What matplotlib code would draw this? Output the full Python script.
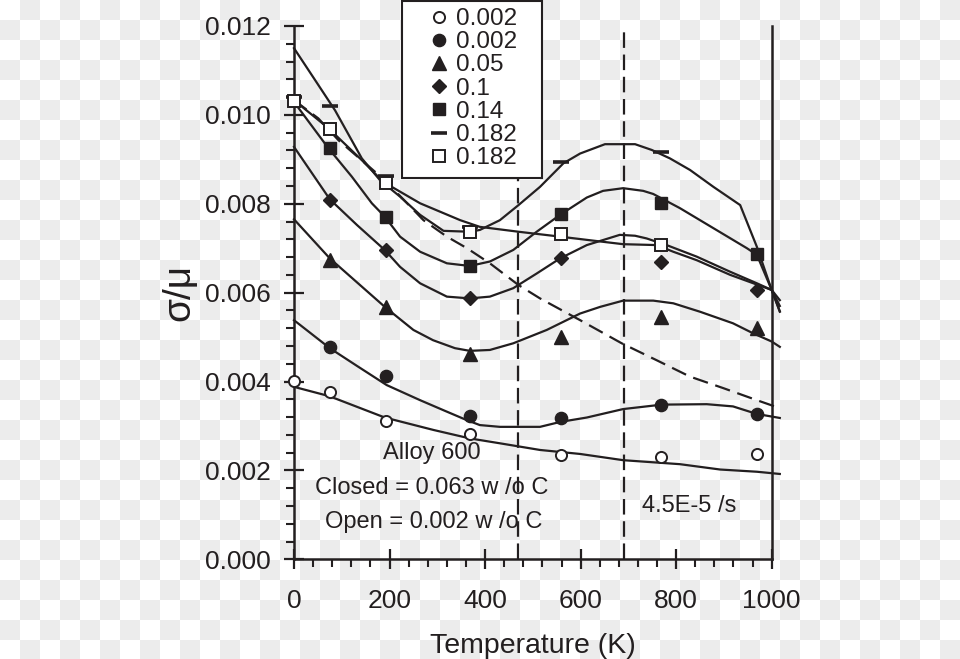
import matplotlib
matplotlib.use("Agg")
import matplotlib.pyplot as plt
from matplotlib.colors import ListedColormap
from matplotlib.patches import Rectangle
from matplotlib.ticker import MultipleLocator, FormatStrFormatter
from matplotlib.lines import Line2D
import numpy as np

plt.rcParams['font.family'] = ['Liberation Sans', 'DejaVu Sans']
INK = '#231f20'

# measured points (temperature in K, sigma/mu)
temps = [0, 75, 192, 368, 558, 768, 969]
open_002 = [0.00402, 0.00377, 0.00312, 0.00281, 0.00235, 0.00231, 0.00236]
filled_002 = [0.00478, 0.00412, 0.00322, 0.00317, 0.00347, 0.00327]
tri_005 = [0.00673, 0.00568, 0.00463, 0.00501, 0.00546, 0.00520]
dia_01 = [0.00808, 0.00696, 0.00587, 0.00679, 0.00670, 0.00607]
sq_014 = [0.00925, 0.00771, 0.00660, 0.00777, 0.00802, 0.00687]
dash_0182 = [0.0104, 0.01020, 0.00863, 0.00748, 0.00893, 0.00917]
osq_0182 = [0.01031, 0.00968, 0.00847, 0.00737, 0.00733, 0.00707]

# model curves
c_open_x = [0, 74, 132, 190, 292, 368, 431, 515, 599, 689, 808, 892, 969, 1017]
c_open_y = [0.00388, 0.00367, 0.00343, 0.00319, 0.00291, 0.00272, 0.00261,
            0.00246, 0.00237, 0.00223, 0.00214, 0.00202, 0.00197, 0.00192]
c_fill_x = [0, 75, 132, 194, 264, 316, 362, 389, 431, 515, 557, 613, 689,
            770, 864, 919, 969, 1017]
c_fill_y = [0.00538, 0.00475, 0.00435, 0.00392, 0.00358, 0.00334, 0.00313,
            0.00302, 0.00298, 0.00298, 0.00309, 0.00319, 0.00338, 0.00348,
            0.00349, 0.00344, 0.00327, 0.00318]
c_tri_x = [0, 75, 133, 190, 250, 291, 337, 368, 410, 459, 529, 599, 641,
           689, 752, 794, 850, 919, 962, 1000, 1017]
c_tri_y = [0.00765, 0.00677, 0.00622, 0.00568, 0.00516, 0.00493, 0.00475,
           0.00469, 0.00471, 0.00486, 0.00516, 0.00553, 0.00568, 0.00582,
           0.00582, 0.00576, 0.00557, 0.00531, 0.00508, 0.00490, 0.00478]
c_dia_x = [0, 75, 132, 190, 222, 264, 320, 368, 410, 459, 508, 557, 613,
           682, 714, 738, 780, 843, 913, 969, 1000, 1017]
c_dia_y = [0.00928, 0.00810, 0.00752, 0.00696, 0.00658, 0.00621, 0.00591,
           0.00587, 0.00591, 0.00610, 0.00643, 0.00677, 0.00707, 0.00730,
           0.00728, 0.00722, 0.00707, 0.00681, 0.00647, 0.00621, 0.00606,
           0.00583]
c_sq_x = [0, 72, 121, 163, 190, 222, 264, 320, 368, 410, 459, 508, 557,
          613, 647, 689, 731, 752, 808, 878, 948, 969, 1000, 1017]
c_sq_y = [0.01029, 0.00925, 0.00861, 0.00801, 0.00771, 0.00726, 0.00692,
          0.00666, 0.00660, 0.00670, 0.00696, 0.00737, 0.00775, 0.00814,
          0.00829, 0.00835, 0.00829, 0.00822, 0.00790, 0.00745, 0.00700,
          0.00685, 0.00606, 0.00558]
c_s182_x = [0, 40, 86, 142, 180, 222, 264, 313, 368, 389, 431, 470, 515, 564,
            599, 651, 714, 749, 787, 829, 878, 934, 969, 1000, 1017]
c_s182_y = [0.01150, 0.01085, 0.01010, 0.00902, 0.00853, 0.00816, 0.00775,
            0.00739, 0.00737, 0.00741, 0.00763, 0.00797, 0.00838, 0.00891,
            0.00913, 0.00934, 0.00934, 0.00921, 0.00902, 0.00876, 0.00838,
            0.00797, 0.00703, 0.00606, 0.00557]
c_o182_x = [0, 72, 142, 187, 264, 306, 348, 389, 470, 557, 634, 689, 759,
            794, 843, 913, 1000, 1017]
c_o182_y = [0.01033, 0.00970, 0.00898, 0.00849, 0.00801, 0.00782, 0.00763,
            0.00748, 0.00737, 0.00726, 0.00716, 0.00709, 0.00707, 0.00692,
            0.00673, 0.00640, 0.00606, 0.00570]
c_dash_x = [0, 51, 93, 190, 271, 320, 362, 410, 470, 515, 599, 686, 759,
            829, 899, 969, 1017]
c_dash_y = [0.01033, 0.00992, 0.00943, 0.00853, 0.00763, 0.00726, 0.00700,
            0.00666, 0.00617, 0.00587, 0.00538, 0.00486, 0.00448, 0.00411,
            0.00385, 0.00358, 0.00340]
vlines_x = [468, 691]

legend_labels = ['0.002', '0.002', '0.05', '0.1', '0.14', '0.182', '0.182']

fig = plt.figure(figsize=(9.6, 6.59), dpi=100)

# checkered background
bg = fig.add_axes([0, 0, 1, 1], zorder=-10)
yy, xx = np.mgrid[0:659, 0:960]
bg.imshow((yy // 20 + xx // 20) % 2, cmap=ListedColormap(['white', '#ececec']),
          extent=(0, 960, 659, 0), interpolation='nearest', aspect='auto')
bg.axis('off')

ax = fig.add_axes([0.30625, 0.1513, 0.4976, 0.8093])
ax.set_facecolor('none')

lw = 1.6
for cx, cy in [(c_open_x, c_open_y), (c_fill_x, c_fill_y), (c_tri_x, c_tri_y),
               (c_dia_x, c_dia_y), (c_sq_x, c_sq_y), (c_s182_x, c_s182_y),
               (c_o182_x, c_o182_y)]:
    ax.plot(cx, cy, color=INK, lw=lw, clip_on=False, zorder=2)
ax.plot(c_dash_x, c_dash_y, color=INK, lw=lw, ls=(0, (7, 3.5)), clip_on=False, zorder=2)
for v in vlines_x:
    ax.axvline(v, color=INK, lw=lw, ls=(0, (7, 3)), zorder=2)

styles = [
    dict(marker='o', ms=8, mfc='white', mec=INK, mew=1.4),
    dict(marker='o', ms=8.8, mfc=INK, mec=INK),
    dict(marker='^', ms=10.5, mfc=INK, mec=INK),
    dict(marker='D', ms=7.5, mfc=INK, mec=INK),
    dict(marker='s', ms=8.5, mfc=INK, mec=INK),
    dict(marker='_', ms=11, mec=INK, mew=2.6),
    dict(marker='s', ms=8.3, mfc='white', mec=INK, mew=1.4),
]
series = [(temps, open_002), (temps[1:], filled_002), (temps[1:], tri_005),
          (temps[1:], dia_01), (temps[1:], sq_014), (temps[:6], dash_0182),
          (temps[:6], osq_0182)]
for (sx, sy), st in zip(series, styles):
    ax.plot(sx, sy, ls='none', clip_on=False, zorder=3, **st)

ax.set_xlim(0, 1000)
ax.set_ylim(0, 0.012)
ax.xaxis.set_major_locator(MultipleLocator(200))
ax.xaxis.set_minor_locator(MultipleLocator(40))
ax.yaxis.set_major_locator(MultipleLocator(0.002))
ax.yaxis.set_minor_locator(MultipleLocator(0.0004))
ax.yaxis.set_major_formatter(FormatStrFormatter('%.3f'))
ax.spines['top'].set_visible(False)
for s in ['left', 'bottom', 'right']:
    ax.spines[s].set_linewidth(1.8)
    ax.spines[s].set_color(INK)
ax.tick_params(which='major', direction='inout', length=14, width=1.6,
               labelsize=19, colors=INK)
ax.tick_params(which='minor', direction='out', length=6, width=1.5, colors=INK)
ax.tick_params(axis='x', which='major', pad=14.5)
ax.tick_params(axis='y', which='major', pad=10)
ax.tick_params(right=False, which='both')

ax.set_xlabel('Temperature (K)', fontsize=20.5, color=INK, labelpad=14)
ax.set_ylabel('σ/μ', fontsize=28, color=INK, labelpad=5)

ax.text(289, 0.00239, 'Alloy 600', fontsize=17, color=INK, ha='center', va='center')
ax.text(289, 0.0016, 'Closed = 0.063 w /o C', fontsize=17, color=INK, ha='center', va='center')
ax.text(292, 0.00084, 'Open = 0.002 w /o C', fontsize=17, color=INK, ha='center', va='center')
ax.text(827, 0.00121, '4.5E-5 /s', fontsize=17, color=INK, ha='center', va='center')

# legend with a plain boxed frame
fig.patches.append(Rectangle((402 / 960, 1 - 178 / 659), 140 / 960, 177 / 659,
                             transform=fig.transFigure, facecolor='white',
                             edgecolor=INK, lw=1.5, zorder=4))
handles = [Line2D([], [], ls='none', **st) for st in styles]
fig.legend(handles, legend_labels, loc='upper left',
           bbox_to_anchor=(426.5 / 960, 1 - 8 / 659), frameon=False,
           fontsize=17.5, handlelength=1.0, handletextpad=0.2, borderpad=0,
           borderaxespad=0, labelspacing=0.05, labelcolor=INK)

fig.savefig('out.png', dpi=100)
